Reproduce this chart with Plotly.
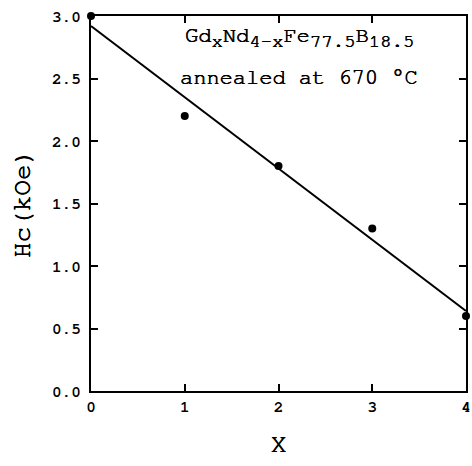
import numpy as np
import plotly.graph_objects as go

# Gd content x and measured coercivity Hc (kOe)
x_vals = [0, 1, 2, 3, 4]
hc_vals = [3.0, 2.2, 1.8, 1.3, 0.6]

x_ticks = [0, 1, 2, 3, 4]
y_ticks = [0.0, 0.5, 1.0, 1.5, 2.0, 2.5, 3.0]

# least-squares line through the measurements
slope, intercept = np.polyfit(x_vals, hc_vals, 1)
fit_x = [0, 4]
fit_y = [intercept + slope * v for v in fit_x]

MONO = "FreeMono, Courier New, monospace"
INK = "0.45px 0 0 black, -0.2px 0 0 black"   # thickens the thin typewriter strokes
tick_font = dict(family=MONO, size=16, color="black", weight="bold")
title_font = dict(family=MONO, size=26, color="black", shadow=INK)
note_font = dict(family=MONO, size=22, color="black", shadow=INK)


def sub(s):
    return f"<sub><span style='font-size:19px'>{s}</span></sub>"


formula = "Gd" + sub("x") + "Nd" + sub("4-x") + "Fe" + sub("77.5") + "B" + sub("18.5")

fig = go.Figure()
fig.add_trace(go.Scatter(x=fit_x, y=fit_y, mode="lines",
                         line=dict(color="black", width=2), cliponaxis=False,
                         showlegend=False))
fig.add_trace(go.Scatter(x=x_vals, y=hc_vals, mode="markers",
                         marker=dict(color="black", size=8), cliponaxis=False,
                         showlegend=False))

fig.add_annotation(x=2.22, y=2.83, xref="x", yref="y", showarrow=False,
                   text=formula, font=note_font)
fig.add_annotation(x=2.22, y=2.51, xref="x", yref="y", showarrow=False,
                   text="annealed at 670 °C", font=note_font)

axis_common = dict(showline=True, linecolor="black", linewidth=2, mirror="ticks",
                   ticks="inside", ticklen=7, tickwidth=2, tickcolor="black",
                   showgrid=False, zeroline=False, tickfont=tick_font,
                   automargin=False)

fig.update_xaxes(range=[0, 4], tickvals=x_ticks, ticktext=[str(v) for v in x_ticks],
                 title=dict(text="X", font=title_font, standoff=20), **axis_common)
fig.update_yaxes(range=[0, 3], tickvals=y_ticks, ticktext=[f"{v:.1f}" for v in y_ticks],
                 ticklabelstandoff=5,
                 title=dict(text="Hc(kOe)", font=title_font, standoff=14), **axis_common)

fig.update_layout(width=472, height=466, margin=dict(l=91, r=6, t=16, b=75),
                  font=dict(family=MONO),
                  plot_bgcolor="white", paper_bgcolor="white")

fig.write_html("out.html")
